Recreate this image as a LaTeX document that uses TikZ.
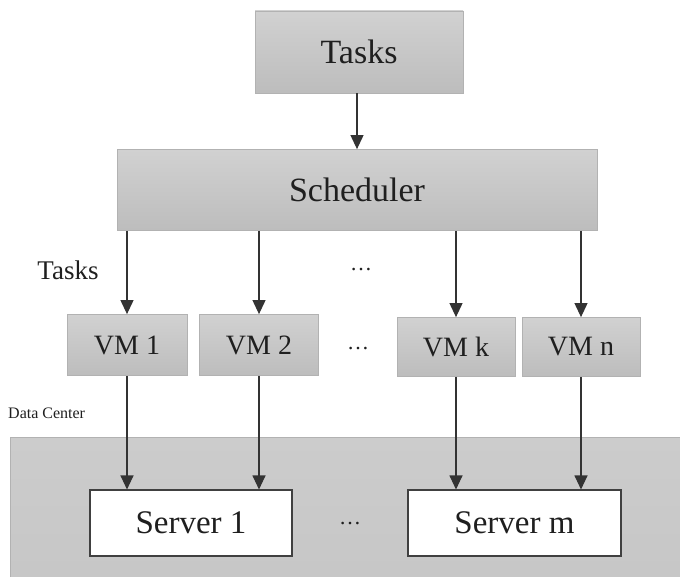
\documentclass[tikz,border=0pt]{standalone}
\usepackage{fontspec}
\setmainfont{Liberation Serif}
\usetikzlibrary{arrows.meta}
\begin{document}
\begin{tikzpicture}[x=1pt,y=-1pt,
  graybox/.style={rectangle, draw=black!30, line width=0.8pt, top color=black!18, bottom color=black!26, inner sep=0pt, text=black!88},
  whitebox/.style={rectangle, draw=black!75, line width=1.1pt, fill=white, inner sep=0pt, text=black!88},
  conn/.style={draw=black!80, line width=1.1pt, -{Triangle[length=14pt,width=13pt]}},
  lbl/.style={inner sep=0pt, text=black!88}
]
\useasboundingbox (0,0) rectangle (680,577);
% data center region
\fill[top color=black!20, bottom color=black!22] (10,437) rectangle (680,577);
\draw[black!30, line width=0.8pt] (10,577) -- (10,437) -- (680,437);
\node[lbl, font=\fontsize{16}{18}\selectfont, anchor=west] (dc) at (8,413) {Data Center};

\node[graybox, minimum width=208pt, minimum height=82pt, font=\fontsize{34}{40}\selectfont] (tasks) at (359,52) {Tasks};
\node[graybox, minimum width=480pt, minimum height=81pt, font=\fontsize{34}{40}\selectfont] (sch) at (357,190) {Scheduler};

\node[graybox, minimum width=120pt, minimum height=61pt, font=\fontsize{28}{32}\selectfont] (vm1) at (127,345) {VM 1};
\node[graybox, minimum width=119pt, minimum height=61pt, font=\fontsize{28}{32}\selectfont] (vm2) at (259,345) {VM 2};
\node[graybox, minimum width=118pt, minimum height=59pt, font=\fontsize{28}{32}\selectfont] (vmk) at (456,347) {VM k};
\node[graybox, minimum width=118pt, minimum height=59pt, font=\fontsize{28}{32}\selectfont] (vmn) at (581,347) {VM n};

\node[whitebox, minimum width=202pt, minimum height=66pt, font=\fontsize{33}{38}\selectfont] (srv1) at (191,523) {Server 1};
\node[whitebox, minimum width=213pt, minimum height=66pt, font=\fontsize{33}{38}\selectfont] (srvm) at (514.5,523) {Server m};

\node[lbl, font=\fontsize{27}{30}\selectfont] (tlabel) at (68,270) {Tasks};
\node[lbl, font=\fontsize{22}{24}\selectfont] (dots1) at (361,270) {\dots};
\node[lbl, font=\fontsize{22}{24}\selectfont] (dots2) at (358,349) {\dots};
\node[lbl, font=\fontsize{22}{24}\selectfont] (dots3) at (350,524) {\dots};

\draw[conn] (tasks.south -| sch.north) -- (sch.north);
\draw[conn] (sch.south -| vm1.north) -- (vm1.north);
\draw[conn] (sch.south -| vm2.north) -- (vm2.north);
\draw[conn] (sch.south -| vmk.north) -- (vmk.north);
\draw[conn] (sch.south -| vmn.north) -- (vmn.north);

\draw[conn] (vm1.south) -- (vm1.south |- srv1.north);
\draw[conn] (vm2.south) -- (vm2.south |- srv1.north);
\draw[conn] (vmk.south) -- (vmk.south |- srvm.north);
\draw[conn] (vmn.south) -- (vmn.south |- srvm.north);
\end{tikzpicture}
\end{document}
